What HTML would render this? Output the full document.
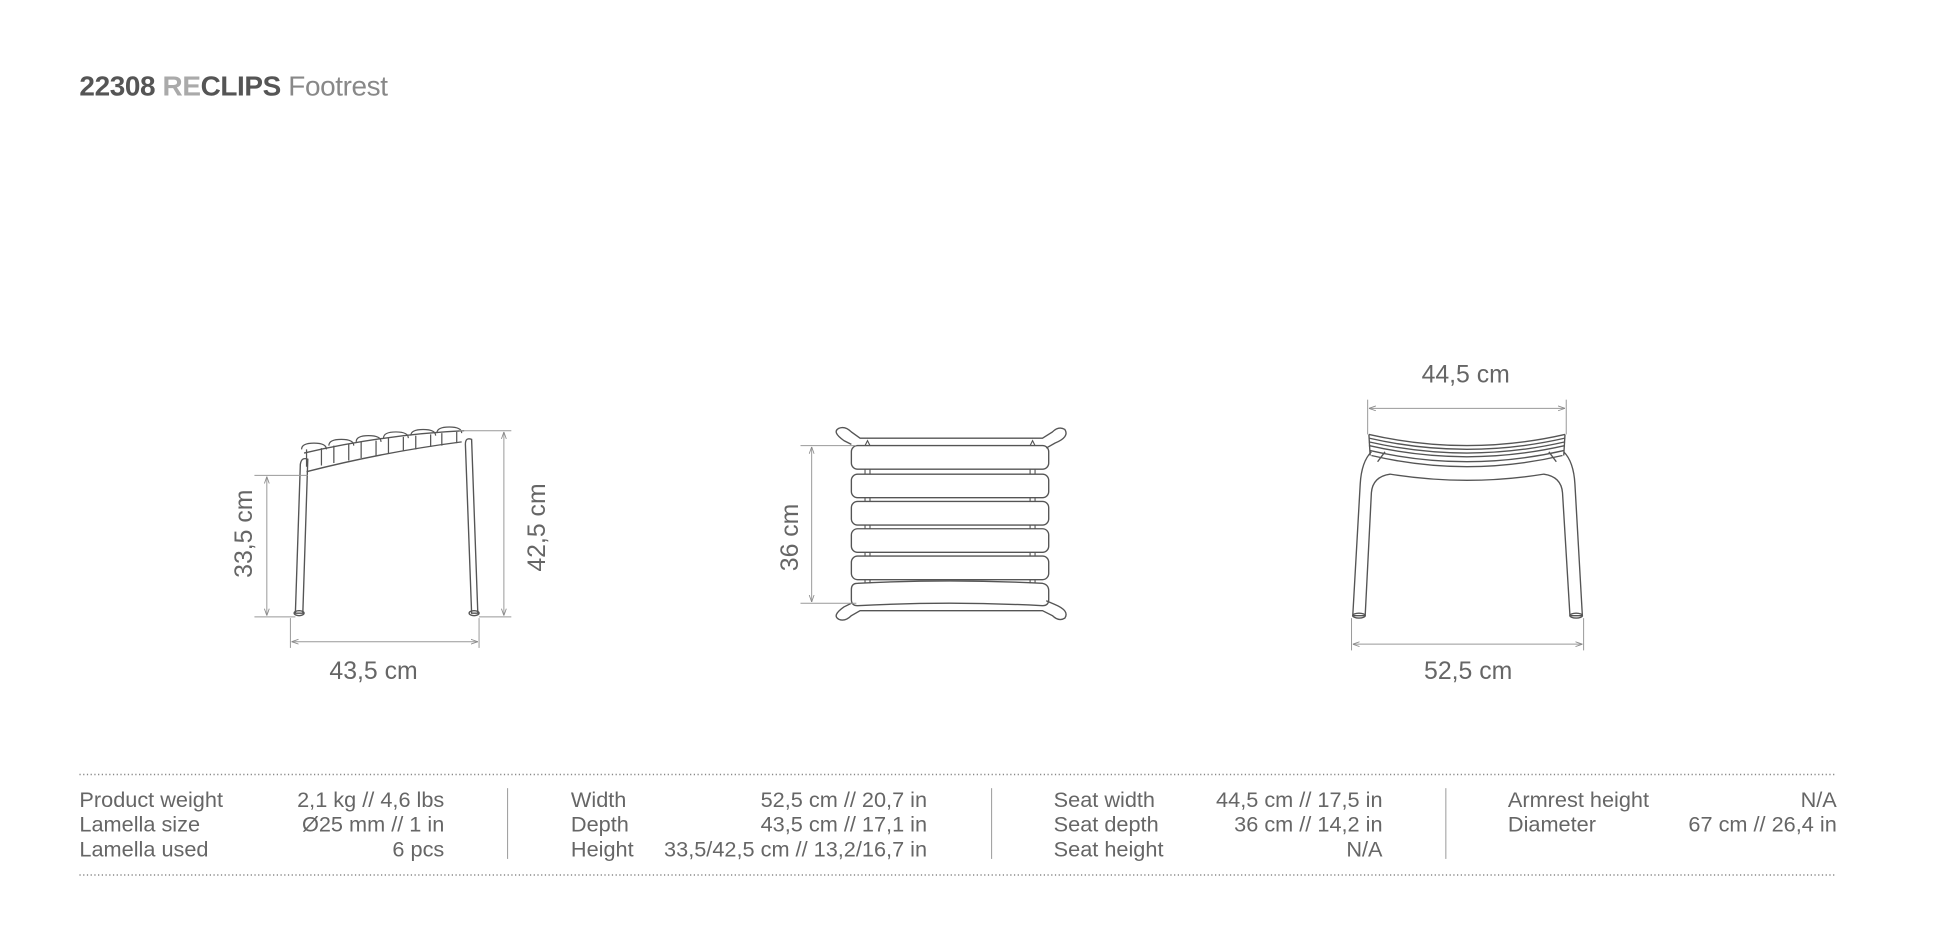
<!DOCTYPE html>
<html><head><meta charset="utf-8"><style>
html,body{margin:0;padding:0;background:#fff;}
svg{display:block;}
text{font-family:"Liberation Sans",Arial,sans-serif;}
</style></head><body>
<svg width="1946" height="952" viewBox="0 0 1568 767" preserveAspectRatio="none" xmlns="http://www.w3.org/2000/svg">
<defs>
<marker id="a" viewBox="0 0 10 10" refX="10" refY="5" markerWidth="7" markerHeight="7" orient="auto-start-reverse"><path d="M0,1.5 L10,5 L0,8.5" fill="none" stroke="#888" stroke-width="1.2"/></marker>
</defs>
<!-- Title -->
<text x="64" y="77" font-size="22.5" font-weight="bold" fill="#555" letter-spacing="-0.3">22308 <tspan fill="#aaa">RE</tspan>CLIPS <tspan font-weight="normal" fill="#888">Footrest</tspan></text>

<!-- LEFT SIDE VIEW -->
<g fill="none" stroke="#555" stroke-width="1.1">
  <path d="M238,494 L242,374 Q243,368 248,370 L244,494 Z"/>
  <path d="M380,494 L375,358 Q375,352 380,354 L385,494 Z"/>
  <ellipse cx="241" cy="494" rx="4" ry="2"/>
  <ellipse cx="382" cy="494" rx="4" ry="2"/>
  <path d="M245,365 Q310,350 374,347"/>
  <path d="M247,380 Q310,364 372,356"/>
  <g stroke-width="1">
    <path d="M243,362 q0,-5 10,-5 q10,0 10,5 M265,359 q0,-5 10,-5 q10,0 10,5 M287,356 q0,-5 10,-5 q10,0 10,5 M309,353 q0,-5 10,-5 q10,0 10,5 M331,351 q0,-5 10,-5 q10,0 10,5 M352,349 q0,-5 10,-5 q10,0 10,5"/>
    <path d="M247,362 v14 M259,361 v14 M269,359 v14 M281,358 v13 M291,356 v13 M303,355 v12 M313,353 v12 M325,352 v11 M335,351 v11 M347,350 v10 M356,349 v10 M368,348 v9"/>
  </g>
</g>
<g stroke="#999" stroke-width="0.8" fill="none">
  <line x1="205" y1="383" x2="248" y2="383"/>
  <line x1="205" y1="497" x2="238" y2="497"/>
  <line x1="215" y1="384" x2="215" y2="496" marker-start="url(#a)" marker-end="url(#a)"/>
  <line x1="370" y1="347" x2="412" y2="347"/>
  <line x1="386" y1="497" x2="412" y2="497"/>
  <line x1="406" y1="348" x2="406" y2="496" marker-start="url(#a)" marker-end="url(#a)"/>
  <line x1="234" y1="498" x2="234" y2="522"/>
  <line x1="386" y1="498" x2="386" y2="522"/>
  <line x1="235" y1="517" x2="385" y2="517" marker-start="url(#a)" marker-end="url(#a)"/>
</g>
<g fill="#666" font-size="20">
  <text transform="translate(203,430) rotate(-90)" text-anchor="middle">33,5 cm</text>
  <text transform="translate(439,425) rotate(-90)" text-anchor="middle">42,5 cm</text>
  <text x="301" y="547" text-anchor="middle">43,5 cm</text>
</g>

<!-- MIDDLE TOP VIEW -->
<g fill="none" stroke="#555" stroke-width="1.1">
  <path d="M686,358 L680,355 Q670,348 676,345 Q681,343 686,348 L693,353 L840,353 L848,348 Q853,343 858,346 Q862,352 850,357 L843,361"/>
  <path d="M686,486 L680,489 Q670,496 676,499 Q681,501 686,496 L693,492 L840,492 L848,496 Q853,501 858,498 Q862,492 850,487 L843,484"/>
  <rect x="686" y="359" width="159" height="19" rx="5"/>
  <rect x="686" y="382" width="159" height="19" rx="5"/>
  <rect x="686" y="404" width="159" height="19" rx="5"/>
  <rect x="686" y="426" width="159" height="19" rx="5"/>
  <rect x="686" y="448" width="159" height="19" rx="5"/>
  <path d="M691,470 Q765,466 840,470 Q845,471 845,476 L845,483 Q845,488 840,488 Q765,484 691,488 Q686,488 686,483 L686,475 Q686,470 691,470 Z"/>
  <g stroke-width="0.9">
    <path d="M697,378 v4 M701,378 v4 M830,378 v4 M834,378 v4 M697,401 v3 M701,401 v3 M830,401 v3 M834,401 v3 M697,423 v3 M701,423 v3 M830,423 v3 M834,423 v3 M697,445 v3 M701,445 v3 M830,445 v3 M834,445 v3 M697,467 v3 M701,467 v3 M830,467 v3 M834,467 v3"/>
    <path d="M697,359 l2,-4 l2,4 M830,359 l2,-4 l2,4"/>
  </g>
</g>
<g stroke="#999" stroke-width="0.8" fill="none">
  <line x1="645" y1="359" x2="690" y2="359"/>
  <line x1="645" y1="486" x2="690" y2="486"/>
  <line x1="654" y1="360" x2="654" y2="485" marker-start="url(#a)" marker-end="url(#a)"/>
</g>
<text transform="translate(643,433) rotate(-90)" text-anchor="middle" fill="#666" font-size="20">36 cm</text>

<!-- RIGHT FRONT VIEW -->
<g fill="none" stroke="#555" stroke-width="1.1">
  <path d="M1103,350 Q1182,368 1261,350"/>
  <path d="M1103,353 Q1182,371 1261,353"/>
  <path d="M1103,356 Q1182,374 1261,356"/>
  <path d="M1103,359 Q1182,377 1261,359"/>
  <path d="M1104,363 Q1182,381 1260,363"/>
  <path d="M1105,367 Q1182,385 1259,367"/>
  <path d="M1103,350 L1104,367 M1261,350 L1260,367"/>
  <path d="M1105,364 Q1097,372 1096,390 L1090,496 L1100,496 L1105,397 Q1106,384 1120,382 Q1182,392 1244,382 Q1258,384 1259,397 L1265,496 L1275,496 L1269,390 Q1268,372 1260,364"/>
  <path d="M1110,372 L1116,364 M1254,372 L1248,364"/>
  <ellipse cx="1095" cy="496" rx="5" ry="2"/>
  <ellipse cx="1270" cy="496" rx="5" ry="2"/>
</g>
<g stroke="#999" stroke-width="0.8" fill="none">
  <line x1="1102" y1="322" x2="1102" y2="350"/>
  <line x1="1262" y1="322" x2="1262" y2="350"/>
  <line x1="1103" y1="329" x2="1261" y2="329" marker-start="url(#a)" marker-end="url(#a)"/>
  <line x1="1089" y1="498" x2="1089" y2="524"/>
  <line x1="1276" y1="498" x2="1276" y2="524"/>
  <line x1="1090" y1="519" x2="1275" y2="519" marker-start="url(#a)" marker-end="url(#a)"/>
</g>
<g fill="#666" font-size="20">
  <text x="1181" y="308" text-anchor="middle">44,5 cm</text>
  <text x="1183" y="547" text-anchor="middle">52,5 cm</text>
</g>

<!-- SPEC TABLE -->
<g stroke="#888" stroke-width="1.2" stroke-dasharray="1,2">
  <line x1="64" y1="624" x2="1480" y2="624"/>
  <line x1="64" y1="705" x2="1480" y2="705"/>
</g>
<g stroke="#999" stroke-width="0.8">
  <line x1="409" y1="635" x2="409" y2="692"/>
  <line x1="799" y1="635" x2="799" y2="692"/>
  <line x1="1165" y1="635" x2="1165" y2="692"/>
</g>
<g fill="#666" font-size="17.5">
  <text x="64" y="650">Product weight</text>
  <text x="64" y="670">Lamella size</text>
  <text x="64" y="690">Lamella used</text>
  <g text-anchor="end">
    <text x="358" y="650">2,1 kg // 4,6 lbs</text>
    <text x="358" y="670">Ø25 mm // 1 in</text>
    <text x="358" y="690">6 pcs</text>
  </g>
  <text x="460" y="650">Width</text>
  <text x="460" y="670">Depth</text>
  <text x="460" y="690">Height</text>
  <g text-anchor="end">
    <text x="747" y="650">52,5 cm // 20,7 in</text>
    <text x="747" y="670">43,5 cm // 17,1 in</text>
    <text x="747" y="690">33,5/42,5 cm // 13,2/16,7 in</text>
  </g>
  <text x="849" y="650">Seat width</text>
  <text x="849" y="670">Seat depth</text>
  <text x="849" y="690">Seat height</text>
  <g text-anchor="end">
    <text x="1114" y="650">44,5 cm // 17,5 in</text>
    <text x="1114" y="670">36 cm // 14,2 in</text>
    <text x="1114" y="690">N/A</text>
  </g>
  <text x="1215" y="650">Armrest height</text>
  <text x="1215" y="670">Diameter</text>
  <g text-anchor="end">
    <text x="1480" y="650">N/A</text>
    <text x="1480" y="670">67 cm // 26,4 in</text>
  </g>
</g>
</svg>
</body></html>
